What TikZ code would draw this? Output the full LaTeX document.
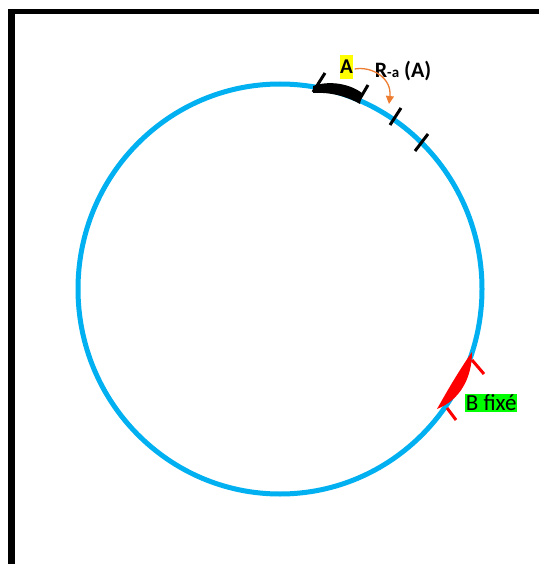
\documentclass[tikz,border=0pt]{standalone}
\usepackage{fontspec}
\setmainfont{Carlito}
\usetikzlibrary{arrows.meta}
\definecolor{ringblue}{RGB}{0,176,240}
\definecolor{arrorange}{RGB}{237,125,49}
\definecolor{lblgreen}{RGB}{0,255,0}
\definecolor{lblyellow}{RGB}{255,255,0}
\begin{document}
\begin{tikzpicture}[x=1pt,y=-1pt,
  tick/.style={line width=3pt,black},
  redtick/.style={line width=3pt,red},
  lbl/.style={inner sep=0.6pt,text=black}]
\useasboundingbox (0,0) rectangle (539,564);
% frame
\fill[black] (8,9) rectangle (539,14);
\fill[black] (8,9) rectangle (15,564);
% ring
\draw[ringblue,line width=5pt] (280,289) ellipse[x radius=202,y radius=205];
% A segment
\fill[black] (313,86) .. controls (330,80) and (350,84) .. (362,93)
  -- (360,104) .. controls (346,96) and (330,92) .. (313,93) -- cycle;
\draw[tick] (313,92) -- (325,73);
\draw[tick] (358,102) -- (368,85);
% other ticks
\draw[tick] (390,125) -- (401,108);
\draw[tick] (415,151) -- (428,134);
% B segment
\fill[red] (472,352) .. controls (472,378) and (460,400) .. (437,409)
  .. controls (446,393) and (458,372) .. (472,352) -- cycle;
\draw[redtick] (472,360) -- (484,374);
\draw[redtick] (447,408) -- (456,420);
% labels
\node[lbl,fill=lblyellow,font=\fontsize{21}{21}\selectfont\bfseries,minimum width=13pt,minimum height=24pt] (A) at (346.5,67) {A};
\node[lbl,font=\fontsize{22}{22}\selectfont\bfseries,anchor=west] (Ra) at (374,71) {R{\fontsize{15}{15}\selectfont -a} (A)};
\node[lbl,fill=lblgreen,font=\fontsize{23}{23}\selectfont,anchor=west] (B) at (465,403) {B fixé};
% orange arrow
\draw[arrorange,line width=1.3pt,-{Triangle[length=8pt,width=8pt]}] (A.east) ++(1,2) .. controls (372,66) and (392,78) .. (389,104);
\end{tikzpicture}
\end{document}
